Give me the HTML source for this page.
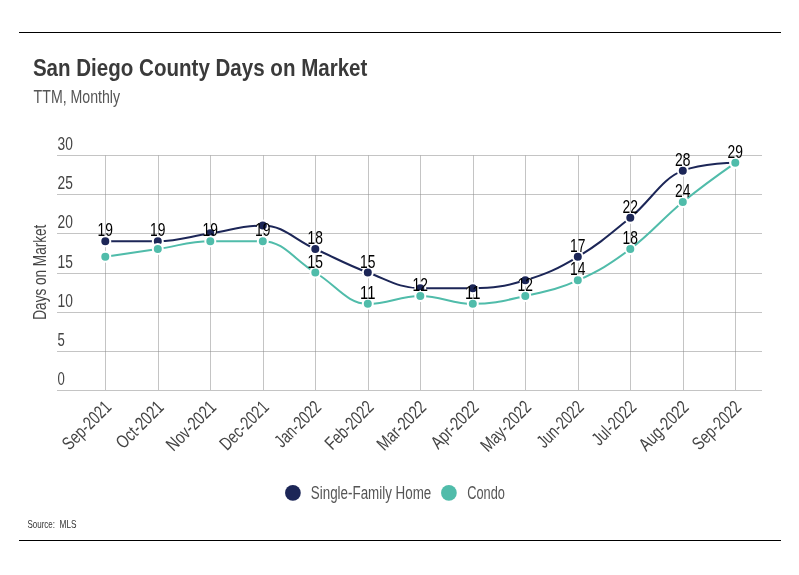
<!DOCTYPE html>
<html><head><meta charset="utf-8"><title>San Diego County Days on Market</title>
<style>html,body{margin:0;padding:0;background:#fff;width:799px;height:575px;overflow:hidden}
svg{display:block;font-family:"Liberation Sans",sans-serif}</style></head>
<body>
<svg width="799" height="575" viewBox="0 0 799 575" font-family="'Liberation Sans', sans-serif">
<rect x="19" y="32" width="762" height="1" fill="#000"/>
<rect x="19" y="540" width="762" height="1" fill="#000"/>
<text x="32.90" y="75.60" font-size="23.00" fill="#3a3a3a" text-anchor="start" font-weight="bold" textLength="334.50" lengthAdjust="spacingAndGlyphs">San Diego County Days on Market</text>
<text x="33.60" y="103.00" font-size="18.20" fill="#555" text-anchor="start" font-weight="normal" textLength="86.50" lengthAdjust="spacingAndGlyphs">TTM, Monthly</text>
<line x1="57" x2="762" y1="390.5" y2="390.5" stroke="#8a8a8a" stroke-opacity="0.5" stroke-width="1"/>
<text x="57.60" y="384.70" font-size="17.50" fill="#444" text-anchor="start" font-weight="normal" textLength="7.30" lengthAdjust="spacingAndGlyphs">0</text>
<line x1="57" x2="762" y1="351.5" y2="351.5" stroke="#8a8a8a" stroke-opacity="0.5" stroke-width="1"/>
<text x="57.60" y="345.70" font-size="17.50" fill="#444" text-anchor="start" font-weight="normal" textLength="7.30" lengthAdjust="spacingAndGlyphs">5</text>
<line x1="57" x2="762" y1="312.5" y2="312.5" stroke="#8a8a8a" stroke-opacity="0.5" stroke-width="1"/>
<text x="57.60" y="306.70" font-size="17.50" fill="#444" text-anchor="start" font-weight="normal" textLength="15.30" lengthAdjust="spacingAndGlyphs">10</text>
<line x1="57" x2="762" y1="273.5" y2="273.5" stroke="#8a8a8a" stroke-opacity="0.5" stroke-width="1"/>
<text x="57.60" y="267.70" font-size="17.50" fill="#444" text-anchor="start" font-weight="normal" textLength="15.30" lengthAdjust="spacingAndGlyphs">15</text>
<line x1="57" x2="762" y1="233.5" y2="233.5" stroke="#8a8a8a" stroke-opacity="0.5" stroke-width="1"/>
<text x="57.60" y="227.70" font-size="17.50" fill="#444" text-anchor="start" font-weight="normal" textLength="15.30" lengthAdjust="spacingAndGlyphs">20</text>
<line x1="57" x2="762" y1="194.5" y2="194.5" stroke="#8a8a8a" stroke-opacity="0.5" stroke-width="1"/>
<text x="57.60" y="188.70" font-size="17.50" fill="#444" text-anchor="start" font-weight="normal" textLength="15.30" lengthAdjust="spacingAndGlyphs">25</text>
<line x1="57" x2="762" y1="155.5" y2="155.5" stroke="#8a8a8a" stroke-opacity="0.5" stroke-width="1"/>
<text x="57.60" y="149.70" font-size="17.50" fill="#444" text-anchor="start" font-weight="normal" textLength="15.30" lengthAdjust="spacingAndGlyphs">30</text>
<line x1="105.5" x2="105.5" y1="155.5" y2="390" stroke="#8a8a8a" stroke-opacity="0.5" stroke-width="1"/>
<line x1="158.5" x2="158.5" y1="155.5" y2="390" stroke="#8a8a8a" stroke-opacity="0.5" stroke-width="1"/>
<line x1="210.5" x2="210.5" y1="155.5" y2="390" stroke="#8a8a8a" stroke-opacity="0.5" stroke-width="1"/>
<line x1="263.5" x2="263.5" y1="155.5" y2="390" stroke="#8a8a8a" stroke-opacity="0.5" stroke-width="1"/>
<line x1="315.5" x2="315.5" y1="155.5" y2="390" stroke="#8a8a8a" stroke-opacity="0.5" stroke-width="1"/>
<line x1="368.5" x2="368.5" y1="155.5" y2="390" stroke="#8a8a8a" stroke-opacity="0.5" stroke-width="1"/>
<line x1="420.5" x2="420.5" y1="155.5" y2="390" stroke="#8a8a8a" stroke-opacity="0.5" stroke-width="1"/>
<line x1="473.5" x2="473.5" y1="155.5" y2="390" stroke="#8a8a8a" stroke-opacity="0.5" stroke-width="1"/>
<line x1="525.5" x2="525.5" y1="155.5" y2="390" stroke="#8a8a8a" stroke-opacity="0.5" stroke-width="1"/>
<line x1="578.5" x2="578.5" y1="155.5" y2="390" stroke="#8a8a8a" stroke-opacity="0.5" stroke-width="1"/>
<line x1="630.5" x2="630.5" y1="155.5" y2="390" stroke="#8a8a8a" stroke-opacity="0.5" stroke-width="1"/>
<line x1="683.5" x2="683.5" y1="155.5" y2="390" stroke="#8a8a8a" stroke-opacity="0.5" stroke-width="1"/>
<line x1="735.5" x2="735.5" y1="155.5" y2="390" stroke="#8a8a8a" stroke-opacity="0.5" stroke-width="1"/>
<text x="0.00" y="0.00" font-size="17.50" fill="#444" text-anchor="middle" font-weight="normal" textLength="95.00" lengthAdjust="spacingAndGlyphs" transform="translate(45.9 272.2) rotate(-90)">Days on Market</text>
<text x="0.00" y="0.00" font-size="18.50" fill="#444" text-anchor="end" font-weight="normal" textLength="60.50" lengthAdjust="spacingAndGlyphs" transform="translate(112.40 408.30) rotate(-45)">Sep-2021</text>
<text x="0.00" y="0.00" font-size="18.50" fill="#444" text-anchor="end" font-weight="normal" textLength="58.78" lengthAdjust="spacingAndGlyphs" transform="translate(164.90 408.30) rotate(-45)">Oct-2021</text>
<text x="0.00" y="0.00" font-size="18.50" fill="#444" text-anchor="end" font-weight="normal" textLength="61.97" lengthAdjust="spacingAndGlyphs" transform="translate(217.40 408.30) rotate(-45)">Nov-2021</text>
<text x="0.00" y="0.00" font-size="18.50" fill="#444" text-anchor="end" font-weight="normal" textLength="60.82" lengthAdjust="spacingAndGlyphs" transform="translate(269.90 408.30) rotate(-45)">Dec-2021</text>
<text x="0.00" y="0.00" font-size="18.50" fill="#444" text-anchor="end" font-weight="normal" textLength="56.98" lengthAdjust="spacingAndGlyphs" transform="translate(322.40 408.30) rotate(-45)">Jan-2022</text>
<text x="0.00" y="0.00" font-size="18.50" fill="#444" text-anchor="end" font-weight="normal" textLength="60.21" lengthAdjust="spacingAndGlyphs" transform="translate(374.90 408.30) rotate(-45)">Feb-2022</text>
<text x="0.00" y="0.00" font-size="18.50" fill="#444" text-anchor="end" font-weight="normal" textLength="61.13" lengthAdjust="spacingAndGlyphs" transform="translate(427.40 408.30) rotate(-45)">Mar-2022</text>
<text x="0.00" y="0.00" font-size="18.50" fill="#444" text-anchor="end" font-weight="normal" textLength="58.81" lengthAdjust="spacingAndGlyphs" transform="translate(479.90 408.30) rotate(-45)">Apr-2022</text>
<text x="0.00" y="0.00" font-size="18.50" fill="#444" text-anchor="end" font-weight="normal" textLength="62.96" lengthAdjust="spacingAndGlyphs" transform="translate(532.40 408.30) rotate(-45)">May-2022</text>
<text x="0.00" y="0.00" font-size="18.50" fill="#444" text-anchor="end" font-weight="normal" textLength="57.59" lengthAdjust="spacingAndGlyphs" transform="translate(584.90 408.30) rotate(-45)">Jun-2022</text>
<text x="0.00" y="0.00" font-size="18.50" fill="#444" text-anchor="end" font-weight="normal" textLength="53.89" lengthAdjust="spacingAndGlyphs" transform="translate(637.40 408.30) rotate(-45)">Jul-2022</text>
<text x="0.00" y="0.00" font-size="18.50" fill="#444" text-anchor="end" font-weight="normal" textLength="61.63" lengthAdjust="spacingAndGlyphs" transform="translate(689.90 408.30) rotate(-45)">Aug-2022</text>
<text x="0.00" y="0.00" font-size="18.50" fill="#444" text-anchor="end" font-weight="normal" textLength="60.50" lengthAdjust="spacingAndGlyphs" transform="translate(742.40 408.30) rotate(-45)">Sep-2022</text>
<path d="M 105.30 256.83 C 105.30 256.83 136.80 252.13 157.80 249.00 C 178.80 245.87 189.30 241.17 210.30 241.17 C 231.30 241.17 241.80 241.17 262.80 241.17 C 283.80 241.17 294.30 259.97 315.30 272.50 C 336.30 285.03 346.80 303.83 367.80 303.83 C 388.80 303.83 399.30 296.00 420.30 296.00 C 441.30 296.00 451.80 303.83 472.80 303.83 C 493.80 303.83 504.30 300.70 525.30 296.00 C 546.30 291.30 556.80 289.73 577.80 280.33 C 598.80 270.93 609.30 264.67 630.30 249.00 C 651.30 233.33 661.80 219.23 682.80 202.00 C 703.80 184.77 735.30 162.83 735.30 162.83" fill="none" stroke="#50bcaa" stroke-width="2" stroke-linejoin="round" stroke-linecap="round"/>
<path d="M 105.30 241.17 C 105.30 241.17 136.80 241.17 157.80 241.17 C 178.80 241.17 189.30 236.47 210.30 233.33 C 231.30 230.20 241.80 225.50 262.80 225.50 C 283.80 225.50 294.30 239.60 315.30 249.00 C 336.30 258.40 346.80 264.67 367.80 272.50 C 388.80 280.33 399.30 288.17 420.30 288.17 C 441.30 288.17 451.80 288.17 472.80 288.17 C 493.80 288.17 504.30 286.60 525.30 280.33 C 546.30 274.07 556.80 269.37 577.80 256.83 C 598.80 244.30 609.30 234.90 630.30 217.67 C 651.30 200.43 661.80 178.50 682.80 170.67 C 703.80 162.83 735.30 162.83 735.30 162.83" fill="none" stroke="#1c2657" stroke-width="2" stroke-linejoin="round" stroke-linecap="round"/>
<circle cx="105.30" cy="241.17" r="5" fill="#1c2657" stroke="#fff" stroke-width="2"/><circle cx="157.80" cy="241.17" r="5" fill="#1c2657" stroke="#fff" stroke-width="2"/><circle cx="210.30" cy="233.33" r="5" fill="#1c2657" stroke="#fff" stroke-width="2"/><circle cx="262.80" cy="225.50" r="5" fill="#1c2657" stroke="#fff" stroke-width="2"/><circle cx="315.30" cy="249.00" r="5" fill="#1c2657" stroke="#fff" stroke-width="2"/><circle cx="367.80" cy="272.50" r="5" fill="#1c2657" stroke="#fff" stroke-width="2"/><circle cx="420.30" cy="288.17" r="5" fill="#1c2657" stroke="#fff" stroke-width="2"/><circle cx="472.80" cy="288.17" r="5" fill="#1c2657" stroke="#fff" stroke-width="2"/><circle cx="525.30" cy="280.33" r="5" fill="#1c2657" stroke="#fff" stroke-width="2"/><circle cx="577.80" cy="256.83" r="5" fill="#1c2657" stroke="#fff" stroke-width="2"/><circle cx="630.30" cy="217.67" r="5" fill="#1c2657" stroke="#fff" stroke-width="2"/><circle cx="682.80" cy="170.67" r="5" fill="#1c2657" stroke="#fff" stroke-width="2"/><circle cx="735.30" cy="162.83" r="5" fill="#1c2657" stroke="#fff" stroke-width="2"/>
<circle cx="105.30" cy="256.83" r="5" fill="#50bcaa" stroke="#fff" stroke-width="2"/><circle cx="157.80" cy="249.00" r="5" fill="#50bcaa" stroke="#fff" stroke-width="2"/><circle cx="210.30" cy="241.17" r="5" fill="#50bcaa" stroke="#fff" stroke-width="2"/><circle cx="262.80" cy="241.17" r="5" fill="#50bcaa" stroke="#fff" stroke-width="2"/><circle cx="315.30" cy="272.50" r="5" fill="#50bcaa" stroke="#fff" stroke-width="2"/><circle cx="367.80" cy="303.83" r="5" fill="#50bcaa" stroke="#fff" stroke-width="2"/><circle cx="420.30" cy="296.00" r="5" fill="#50bcaa" stroke="#fff" stroke-width="2"/><circle cx="472.80" cy="303.83" r="5" fill="#50bcaa" stroke="#fff" stroke-width="2"/><circle cx="525.30" cy="296.00" r="5" fill="#50bcaa" stroke="#fff" stroke-width="2"/><circle cx="577.80" cy="280.33" r="5" fill="#50bcaa" stroke="#fff" stroke-width="2"/><circle cx="630.30" cy="249.00" r="5" fill="#50bcaa" stroke="#fff" stroke-width="2"/><circle cx="682.80" cy="202.00" r="5" fill="#50bcaa" stroke="#fff" stroke-width="2"/><circle cx="735.30" cy="162.83" r="5" fill="#50bcaa" stroke="#fff" stroke-width="2"/>
<text x="210.30" y="236.17" font-size="17.80" fill="#000" text-anchor="middle" font-weight="normal" textLength="15.40" lengthAdjust="spacingAndGlyphs">19</text>
<text x="262.80" y="236.17" font-size="17.80" fill="#000" text-anchor="middle" font-weight="normal" textLength="15.40" lengthAdjust="spacingAndGlyphs">19</text>
<text x="315.30" y="267.50" font-size="17.80" fill="#000" text-anchor="middle" font-weight="normal" textLength="15.40" lengthAdjust="spacingAndGlyphs">15</text>
<text x="367.80" y="298.83" font-size="17.80" fill="#000" text-anchor="middle" font-weight="normal" textLength="15.40" lengthAdjust="spacingAndGlyphs">11</text>
<text x="420.30" y="291.00" font-size="17.80" fill="#000" text-anchor="middle" font-weight="normal" textLength="15.40" lengthAdjust="spacingAndGlyphs">12</text>
<text x="472.80" y="298.83" font-size="17.80" fill="#000" text-anchor="middle" font-weight="normal" textLength="15.40" lengthAdjust="spacingAndGlyphs">11</text>
<text x="525.30" y="291.00" font-size="17.80" fill="#000" text-anchor="middle" font-weight="normal" textLength="15.40" lengthAdjust="spacingAndGlyphs">12</text>
<text x="577.80" y="275.33" font-size="17.80" fill="#000" text-anchor="middle" font-weight="normal" textLength="15.40" lengthAdjust="spacingAndGlyphs">14</text>
<text x="630.30" y="244.00" font-size="17.80" fill="#000" text-anchor="middle" font-weight="normal" textLength="15.40" lengthAdjust="spacingAndGlyphs">18</text>
<text x="682.80" y="197.00" font-size="17.80" fill="#000" text-anchor="middle" font-weight="normal" textLength="15.40" lengthAdjust="spacingAndGlyphs">24</text>
<text x="105.30" y="236.17" font-size="17.80" fill="#000" text-anchor="middle" font-weight="normal" textLength="15.40" lengthAdjust="spacingAndGlyphs">19</text>
<text x="157.80" y="236.17" font-size="17.80" fill="#000" text-anchor="middle" font-weight="normal" textLength="15.40" lengthAdjust="spacingAndGlyphs">19</text>
<text x="315.30" y="244.00" font-size="17.80" fill="#000" text-anchor="middle" font-weight="normal" textLength="15.40" lengthAdjust="spacingAndGlyphs">18</text>
<text x="367.80" y="267.50" font-size="17.80" fill="#000" text-anchor="middle" font-weight="normal" textLength="15.40" lengthAdjust="spacingAndGlyphs">15</text>
<text x="577.80" y="251.83" font-size="17.80" fill="#000" text-anchor="middle" font-weight="normal" textLength="15.40" lengthAdjust="spacingAndGlyphs">17</text>
<text x="630.30" y="212.67" font-size="17.80" fill="#000" text-anchor="middle" font-weight="normal" textLength="15.40" lengthAdjust="spacingAndGlyphs">22</text>
<text x="682.80" y="165.67" font-size="17.80" fill="#000" text-anchor="middle" font-weight="normal" textLength="15.40" lengthAdjust="spacingAndGlyphs">28</text>
<text x="735.30" y="157.83" font-size="17.80" fill="#000" text-anchor="middle" font-weight="normal" textLength="15.40" lengthAdjust="spacingAndGlyphs">29</text>
<circle cx="292.9" cy="492.9" r="7.85" fill="#1c2657"/>
<text x="310.80" y="498.80" font-size="17.50" fill="#555" text-anchor="start" font-weight="normal" textLength="120.50" lengthAdjust="spacingAndGlyphs">Single-Family Home</text>
<circle cx="448.9" cy="492.9" r="7.85" fill="#50bcaa"/>
<text x="467.20" y="498.80" font-size="17.50" fill="#555" text-anchor="start" font-weight="normal" textLength="37.70" lengthAdjust="spacingAndGlyphs">Condo</text>
<text x="27.4" y="528" font-size="11.2" fill="#333"><tspan textLength="27.6" lengthAdjust="spacingAndGlyphs">Source:</tspan> <tspan x="59.6" textLength="17.0" lengthAdjust="spacingAndGlyphs">MLS</tspan></text>
</svg>
</body></html>
